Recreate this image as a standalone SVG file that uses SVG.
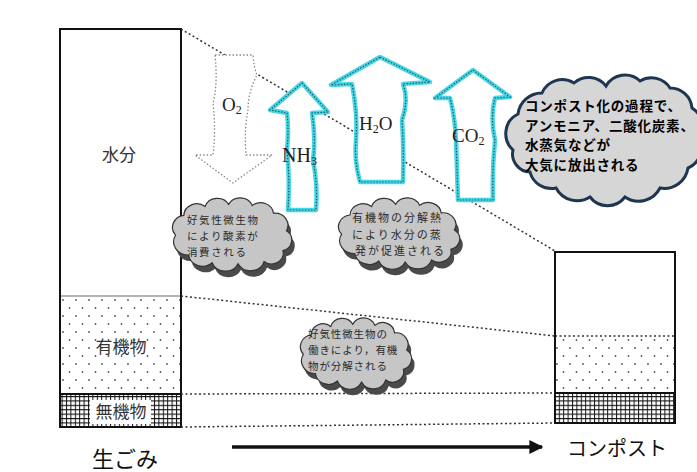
<svg xmlns="http://www.w3.org/2000/svg" width="697" height="472" viewBox="0 0 697 472">
<style>
.jp{font-family:"Noto Sans CJK JP","Noto Sans",sans-serif;}
.chem{font-family:"Liberation Serif",serif;fill:#222;}
.lbl{font-size:17px;fill:#333;text-anchor:middle;}
.dotln{stroke:#333;stroke-width:1.5;stroke-dasharray:2 2.5;fill:none;}
.glow{fill:#fff;stroke:#45d6e6;stroke-width:4.5;stroke-linejoin:round;}
.glowdot{fill:none;stroke:#1f5f6a;stroke-width:1.2;stroke-dasharray:1.5 1.5;}
.cloudshadow{fill:#4a4a4a;}
.cloudbody{fill:#c6c6c6;stroke:#333;stroke-width:1.2;}
.ctext{fill:#2a2a2a;}
.bigtext{font-size:13.5px;font-weight:bold;fill:#000;letter-spacing:0.8px;}
</style>
<defs>
<pattern id="dots" width="13" height="16" patternUnits="userSpaceOnUse" x="60" y="296">
<rect width="13" height="16" fill="#fff"/>
<circle cx="3" cy="4" r="0.9" fill="#555"/>
<circle cx="9.5" cy="12" r="0.9" fill="#555"/>
</pattern>
<pattern id="grid" width="4.4" height="4.4" patternUnits="userSpaceOnUse">
<rect width="4.4" height="4.4" fill="#fff"/>
<path d="M0,0.5H4.4M0.5,0V4.4" stroke="#111" stroke-width="1"/>
</pattern>
<path id="cloud" d="M3,32 A11,11 0 0 1 10,14 A11,11 0 0 1 28,6 A11,11 0 0 1 48,4 A11,11 0 0 1 68,5 A11,11 0 0 1 86,12 A11,11 0 0 1 97,28 A10,10 0 0 1 94,46 A10,10 0 0 1 78,56 A12,12 0 0 1 56,58 A12,12 0 0 1 34,57 A12,12 0 0 1 14,50 A12,12 0 0 1 3,32 Z" vector-effect="non-scaling-stroke"/>
<marker id="ah" viewBox="0 0 10 10" refX="9" refY="5" markerWidth="5" markerHeight="4" orient="auto" markerUnits="strokeWidth">
<path d="M0,0 L10,5 L0,10 Z" fill="#111"/>
</marker>
</defs>
<rect width="697" height="472" fill="#fff"/>

<g id="raw-waste">
<rect x="60" y="29" width="121" height="398" fill="#fff" stroke="#111" stroke-width="2"/>
<rect x="61" y="296" width="119" height="98" fill="url(#dots)"/>
<line x1="60" y1="296" x2="181" y2="296" stroke="#666" stroke-width="1"/>
<rect x="61" y="394" width="119" height="33" fill="url(#grid)"/>
<line x1="60" y1="394" x2="181" y2="394" stroke="#111" stroke-width="2"/>
<rect x="60" y="29" width="121" height="398" fill="none" stroke="#111" stroke-width="2"/>
<rect x="90" y="400" width="61" height="24" fill="#fff"/>
<text class="jp lbl" x="119" y="161">水分</text>
<text class="jp lbl" x="121" y="353" font-size="18">有機物</text>
<text class="jp lbl" x="121" y="418">無機物</text>
<text class="jp" x="125" y="467" font-size="22" text-anchor="middle" fill="#111">生ごみ</text>
</g>

<g id="compost">
<rect x="555" y="252" width="120" height="171" fill="#fff"/>
<rect x="556" y="336" width="118" height="57" fill="url(#dots)"/>
<line x1="555" y1="336" x2="675" y2="336" class="dotln" stroke-width="1"/>
<rect x="556" y="393" width="118" height="30" fill="url(#grid)"/>
<line x1="555" y1="393" x2="675" y2="393" stroke="#111" stroke-width="2"/>
<rect x="555" y="252" width="120" height="171" fill="none" stroke="#111" stroke-width="2"/>
<text class="jp" x="617" y="456" font-size="20" text-anchor="middle" fill="#111">コンポスト</text>
</g>

<g id="connectors">
<line class="dotln" x1="181" y1="29" x2="555" y2="251"/>
<line class="dotln" x1="181" y1="296" x2="555" y2="336"/>
<line class="dotln" x1="181" y1="394" x2="555" y2="393"/>
<line class="dotln" x1="181" y1="427" x2="555" y2="423"/>
<line x1="232" y1="447" x2="542" y2="447" stroke="#111" stroke-width="3.5" marker-end="url(#ah)"/>
</g>

<g id="o2-arrow">
<path d="M215,55 L253,55 Q254,68 257,75 Q248,92 248,110 Q244,130 246,155 L272,155 L233,183 L195,155 L213,155 Q216,130 213,103 Q218,85 215,55 Z" fill="#fff" stroke="#8a8a8a" stroke-width="1.3" stroke-dasharray="1.5 2"/>
<text class="chem" x="222" y="111" font-size="19">O<tspan font-size="12" dy="3">2</tspan></text>
</g>

<g id="nh3-arrow">
<path class="glow" d="M302,83 L328,112 L312,113 Q316,140 313,160 Q318,185 316,210 L288,210 Q290,180 287,150 Q289,130 287,113 L270,110 Z"/>
<path class="glowdot" d="M302,83 L328,112 L312,113 Q316,140 313,160 Q318,185 316,210 L288,210 Q290,180 287,150 Q289,130 287,113 L270,110 Z"/>
<text class="chem" x="282" y="162" font-size="20">NH<tspan font-size="12" dy="3">3</tspan></text>
</g>

<g id="h2o-arrow">
<path class="glow" d="M380,57 L430,82 L403,84 Q409,100 402,120 Q404,150 403,182 L360,182 Q354,160 356,140 Q358,115 352,84 L331,85 Z"/>
<path class="glowdot" d="M380,57 L430,82 L403,84 Q409,100 402,120 Q404,150 403,182 L360,182 Q354,160 356,140 Q358,115 352,84 L331,85 Z"/>
<text class="chem" x="359" y="130" font-size="19">H<tspan font-size="12" dy="3">2</tspan><tspan dy="-3">O</tspan></text>
</g>

<g id="co2-arrow">
<path class="glow" d="M473,70 L510,97 L495,98 Q490,117 495,140 Q492,170 493,200 L458,200 Q457,170 456,140 Q455,117 450,98 L435,98 Z"/>
<path class="glowdot" d="M473,70 L510,97 L495,98 Q490,117 495,140 Q492,170 493,200 L458,200 Q457,170 456,140 Q455,117 450,98 L435,98 Z"/>
<text class="chem" x="452" y="142" font-size="19">CO<tspan font-size="12" dy="3">2</tspan></text>
</g>

<g id="cloud-release">
<path d="M513,150 A22,22 0 0 1 518,114 A24,24 0 0 1 542,93 A22,22 0 0 1 574,83 A22,22 0 0 1 606,86 A22,22 0 0 1 640,81 A22,22 0 0 1 670,88 A22,22 0 0 1 692,108 A24,24 0 0 1 700,140 A22,22 0 0 1 688,168 A24,24 0 0 1 660,188 A24,24 0 0 1 625,197 A22,22 0 0 1 590,197 A24,24 0 0 1 556,188 A22,22 0 0 1 530,172 A18,18 0 0 1 513,150 Z" fill="#d6d6d6" stroke="#1f3650" stroke-width="3"/>
<text class="jp bigtext" x="525" y="111">コンポスト化の過程で、</text>
<text class="jp bigtext" x="525" y="130.5">アンモニア、二酸化炭素、</text>
<text class="jp bigtext" x="525" y="150">水蒸気などが</text>
<text class="jp bigtext" x="525" y="169.5">大気に放出される</text>
</g>

<g id="cloud-oxygen">
<use href="#cloud" class="cloudshadow" transform="translate(175,206) scale(1.18,1.1)"/>
<use href="#cloud" class="cloudbody" transform="translate(172,200) scale(1.18,1.1)"/>
<g class="jp ctext" font-size="10.5" letter-spacing="1.6">
<text x="187" y="224">好気性微生物</text>
<text x="187" y="240">により酸素が</text>
<text x="187" y="255.5">消費される</text>
</g>
</g>

<g id="cloud-evaporation">
<use href="#cloud" class="cloudshadow" transform="translate(341,206) scale(1.2,1.07)"/>
<use href="#cloud" class="cloudbody" transform="translate(338,200) scale(1.2,1.07)"/>
<g class="jp ctext" font-size="11" letter-spacing="2">
<text x="352" y="222">有機物の分解熱</text>
<text x="352" y="238.5">により水分の蒸</text>
<text x="355" y="255">発が促進される</text>
</g>
</g>

<g id="cloud-decomposition">
<use href="#cloud" class="cloudshadow" transform="translate(303,326) scale(1.1,1.07)"/>
<use href="#cloud" class="cloudbody" transform="translate(300,320) scale(1.1,1.07)"/>
<g class="jp ctext" font-size="10.5" letter-spacing="0.9">
<text x="308" y="338">好気性微生物の</text>
<text x="308" y="354">働きにより，有機</text>
<text x="308" y="370">物が分解される</text>
</g>
</g>
</svg>
